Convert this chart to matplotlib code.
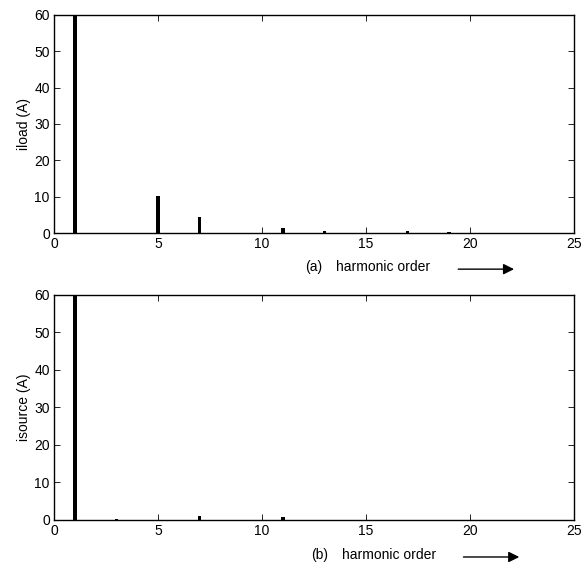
import matplotlib.pyplot as plt

plt.rcParams['font.family'] = ['Liberation Sans', 'DejaVu Sans']

# harmonic spectra
orders_load = [1, 5, 7, 11, 13, 17, 19]
iload = [62, 10.3, 4.3, 1.5, 0.7, 0.7, 0.4]
orders_src = [1, 3, 7, 11]
isource = [62, 0.3, 1.0, 0.7]
xticks = [0, 5, 10, 15, 20, 25]
yticks = [0, 10, 20, 30, 40, 50, 60]


def spectrum(ax, x, y, ylabel, tag, shift):
    ax.bar(x, y, width=0.17, color='black', align='center')
    ax.set_xlim(0, 25)
    ax.set_ylim(0, 60)
    ax.set_xticks(xticks)
    ax.set_yticks(yticks)
    ax.tick_params(direction='in', top=True, right=True, labelsize=10, length=4, width=0.6, pad=3)
    ax.set_ylabel(ylabel, fontsize=10, labelpad=2)
    for s in ax.spines.values():
        s.set_linewidth(1.0)
    ax.text(0.50 + shift, -0.155, tag, transform=ax.transAxes, fontsize=10, ha='center', va='center')
    ax.text(0.543 + shift, -0.155, 'harmonic order', transform=ax.transAxes, fontsize=10, ha='left', va='center')
    ax.annotate('', xy=(0.89 + shift, -0.165), xytext=(0.772 + shift, -0.165), xycoords='axes fraction',
                arrowprops=dict(arrowstyle='-|>', color='black', lw=1.0, mutation_scale=16))


fig = plt.figure(figsize=(5.81, 5.70), dpi=100)
ax1 = fig.add_axes([0.093, 0.591, 0.895, 0.383])
ax2 = fig.add_axes([0.093, 0.088, 0.895, 0.395])
spectrum(ax1, orders_load, iload, 'iload (A)', '(a)', 0.0)
spectrum(ax2, orders_src, isource, 'isource (A)', '(b)', 0.01)
fig.savefig('out.png', dpi=100)
plt.close(fig)
